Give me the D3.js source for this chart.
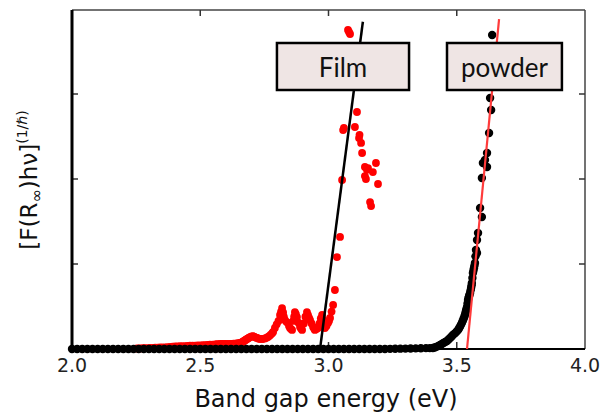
<!DOCTYPE html>
<html>
<head>
<meta charset="utf-8">
<script src="https://cdn.jsdelivr.net/npm/d3@7"></script>
<style>
    body { margin: 0; background: #fff; }
    text { font-family: "DejaVu Sans", sans-serif; }
</style>
</head>
<body>
<script>
// Film data (red), [energy eV, F(R)hv^(1/n)]
var filmData = [
    [2.253, 0.006], [2.262, 0.007], [2.270, 0.008], [2.278, 0.009], [2.285, 0.01], [2.295, 0.011],
    [2.305, 0.012], [2.315, 0.014], [2.324, 0.015], [2.333, 0.016], [2.343, 0.018], [2.353, 0.019],
    [2.363, 0.02], [2.372, 0.022], [2.382, 0.025], [2.392, 0.028], [2.402, 0.03], [2.411, 0.032],
    [2.421, 0.033], [2.431, 0.034], [2.441, 0.035], [2.450, 0.036], [2.460, 0.038], [2.470, 0.039],
    [2.480, 0.04], [2.490, 0.041], [2.500, 0.042], [2.510, 0.044], [2.519, 0.045], [2.528, 0.048],
    [2.538, 0.05], [2.548, 0.052], [2.558, 0.055], [2.565, 0.057], [2.572, 0.058], [2.579, 0.06],
    [2.585, 0.06], [2.593, 0.06], [2.600, 0.06], [2.608, 0.06], [2.616, 0.06], [2.623, 0.061],
    [2.630, 0.062], [2.637, 0.064], [2.643, 0.065], [2.649, 0.068], [2.655, 0.072], [2.659, 0.076],
    [2.663, 0.08], [2.667, 0.088], [2.671, 0.095], [2.675, 0.103], [2.678, 0.11], [2.682, 0.118],
    [2.686, 0.125], [2.690, 0.133], [2.694, 0.14], [2.700, 0.147], [2.706, 0.15], [2.709, 0.146],
    [2.713, 0.14], [2.717, 0.135], [2.721, 0.13], [2.726, 0.125], [2.730, 0.12], [2.735, 0.119],
    [2.741, 0.118], [2.746, 0.12], [2.752, 0.125], [2.758, 0.132], [2.764, 0.141], [2.770, 0.155],
    [2.775, 0.17], [2.780, 0.185], [2.784, 0.2], [2.791, 0.247], [2.798, 0.29], [2.805, 0.33],
    [2.811, 0.4], [2.815, 0.44], [2.819, 0.482], [2.823, 0.43], [2.826, 0.38], [2.830, 0.341],
    [2.836, 0.32], [2.842, 0.306], [2.846, 0.27], [2.850, 0.247], [2.854, 0.235], [2.858, 0.224],
    [2.863, 0.33], [2.866, 0.38], [2.869, 0.435], [2.873, 0.41], [2.877, 0.376], [2.883, 0.31],
    [2.889, 0.259], [2.893, 0.24], [2.897, 0.224], [2.904, 0.3], [2.910, 0.38], [2.916, 0.435],
    [2.920, 0.4], [2.924, 0.37], [2.928, 0.341], [2.934, 0.3], [2.940, 0.259], [2.944, 0.24],
    [2.947, 0.224], [2.953, 0.235], [2.959, 0.247], [2.965, 0.3], [2.970, 0.36], [2.975, 0.4],
    [2.979, 0.341], [2.983, 0.29], [2.986, 0.247], [2.992, 0.27], [2.998, 0.306], [3.002, 0.33],
    [3.006, 0.365], [3.012, 0.44], [3.018, 0.518], [3.025, 0.694], [3.033, 1.082], [3.045, 1.318],
    [3.053, 1.988], [3.057, 2.576], [3.060, 2.6], [3.076, 3.753], [3.080, 3.73], [3.084, 3.706],
    [3.103, 2.612], [3.111, 2.788], [3.119, 2.482], [3.121, 2.52], [3.127, 2.424], [3.131, 2.306],
    [3.142, 2.141], [3.154, 2.129], [3.173, 2.082], [3.185, 2.188], [3.142, 2.035], [3.146, 2.0],
    [3.150, 2.11], [3.193, 1.941], [3.162, 1.729], [3.166, 1.682]
]

// Powder data (black)
var powderData = [
    [2.00, 0], [2.02, 0], [2.04, 0], [2.06, 0], [2.08, 0], [2.10, 0], [2.12, 0], [2.14, 0],
    [2.16, 0], [2.18, 0], [2.20, 0], [2.22, 0], [2.24, 0], [2.26, 0], [2.28, 0], [2.30, 0],
    [2.32, 0], [2.34, 0], [2.36, 0], [2.38, 0], [2.40, 0], [2.42, 0], [2.44, 0], [2.46, 0],
    [2.48, 0], [2.50, 0], [2.52, 0], [2.54, 0], [2.56, 0], [2.58, 0], [2.60, 0], [2.62, 0],
    [2.64, 0], [2.66, 0], [2.68, 0], [2.70, 0], [2.72, 0], [2.74, 0], [2.76, 0], [2.78, 0],
    [2.80, 0], [2.82, 0], [2.84, 0], [2.86, 0], [2.88, 0], [2.90, 0], [2.92, 0], [2.94, 0],
    [2.96, 0], [2.98, 0], [3.00, 0], [3.02, 0], [3.04, 0], [3.06, 0], [3.08, 0], [3.10, 0],
    [3.12, 0], [3.14, 0], [3.16, 0], [3.18, 0], [3.20, 0], [3.22, 0], [3.24, 0.002], [3.26, 0.003],
    [3.28, 0.004], [3.30, 0.005], [3.32, 0.006], [3.34, 0.007], [3.36, 0.008], [3.38, 0.01],
    [3.395, 0.01], [3.407, 0.012], [3.414, 0.018], [3.420, 0.025], [3.428, 0.036], [3.435, 0.047],
    [3.442, 0.058], [3.448, 0.07], [3.455, 0.082], [3.462, 0.094], [3.468, 0.112], [3.474, 0.13],
    [3.480, 0.148], [3.485, 0.165], [3.490, 0.178], [3.495, 0.19], [3.500, 0.207], [3.505, 0.224],
    [3.509, 0.242], [3.512, 0.26], [3.516, 0.283], [3.520, 0.306], [3.523, 0.328], [3.526, 0.35],
    [3.529, 0.375], [3.532, 0.4], [3.534, 0.425], [3.536, 0.45], [3.538, 0.472], [3.540, 0.494],
    [3.542, 0.535], [3.544, 0.576], [3.546, 0.6], [3.548, 0.62], [3.550, 0.64], [3.552, 0.659],
    [3.554, 0.69], [3.556, 0.72], [3.558, 0.75], [3.559, 0.776], [3.561, 0.835], [3.563, 0.894],
    [3.565, 0.92], [3.567, 0.95], [3.569, 0.98], [3.571, 1.012], [3.573, 1.09], [3.575, 1.165],
    [3.579, 1.129], [3.579, 1.282], [3.583, 1.365], [3.598, 1.553], [3.591, 1.659], [3.598, 2.012],
    [3.618, 2.141], [3.602, 2.188], [3.610, 2.224], [3.618, 2.306], [3.626, 2.541], [3.634, 2.812],
    [3.630, 2.953], [3.638, 3.694]
]

// linear fits for the band gap
var filmFit = [[2.967, 0], [3.134, 3.85]]
var powderFit = [[3.54, 0], [3.665, 3.88]]

var xTicks = [2.0, 2.5, 3.0, 3.5, 4.0]
var yTicks = [1, 2, 3]

var labels = [
    { text: 'Film', x0: 2.799, x1: 3.314 },
    { text: 'powder', x0: 3.462, x1: 3.910 }
]

var width = 600
var height = 417
var margin = { top: 9, right: 15, bottom: 68, left: 72 }

var svg = d3.select('body')
    .append('svg')
    .attr('width', width)
    .attr('height', height)

var x = d3.scaleLinear()
    .domain([2.0, 4.0])
    .range([margin.left, width - margin.right])

var y = d3.scaleLinear()
    .domain([0, 4])
    .range([height - margin.bottom, margin.top])

var x0 = x.range()[0], x1 = x.range()[1]
var y0 = y.range()[0], y1 = y.range()[1]

// frame, top and right are thin grey
svg.append('line').attr('x1', x0).attr('x2', x1).attr('y1', y1 + 1).attr('y2', y1 + 1)
    .attr('stroke', '#444').attr('stroke-width', 1.5)
svg.append('line').attr('x1', x1).attr('x2', x1).attr('y1', y1 + 1).attr('y2', y0)
    .attr('stroke', '#444').attr('stroke-width', 1.5)

// inward ticks
var tickG = svg.append('g').attr('stroke', '#333').attr('stroke-width', 1.5)
xTicks.slice(1, -1).forEach(function (t) {
    tickG.append('line').attr('x1', x(t)).attr('x2', x(t)).attr('y1', y1 + 1).attr('y2', y1 + 7)
    tickG.append('line').attr('x1', x(t)).attr('x2', x(t)).attr('y1', y0).attr('y2', y0 - 7)
})
yTicks.forEach(function (t) {
    tickG.append('line').attr('x1', x0).attr('x2', x0 + 6).attr('y1', y(t)).attr('y2', y(t))
    tickG.append('line').attr('x1', x1).attr('x2', x1 - 6).attr('y1', y(t)).attr('y2', y(t))
})

// left and bottom axes, heavy black
svg.append('line').attr('x1', x0).attr('x2', x0).attr('y1', y1 + 1).attr('y2', y0)
    .attr('stroke', '#000').attr('stroke-width', 3)
svg.append('line').attr('x1', x0).attr('x2', x1).attr('y1', y0).attr('y2', y0)
    .attr('stroke', '#000').attr('stroke-width', 2)

// data points
svg.append('g').selectAll('circle')
    .data(filmData)
    .enter()
    .append('circle')
    .attr('cx', d => x(d[0]))
    .attr('cy', d => y(d[1]))
    .attr('r', 3.9)
    .attr('fill', '#ff0000')

svg.append('g').selectAll('circle')
    .data(powderData)
    .enter()
    .append('circle')
    .attr('cx', d => x(d[0]))
    .attr('cy', d => y(d[1]))
    .attr('r', 4.2)
    .attr('fill', '#000')

// fit lines
var line = d3.line().x(d => x(d[0])).y(d => y(d[1]))

svg.append('path').datum(filmFit)
    .attr('d', line).attr('fill', 'none')
    .attr('stroke', '#000').attr('stroke-width', 2.5)

svg.append('path').datum(powderFit)
    .attr('d', line).attr('fill', 'none')
    .attr('stroke', '#ff3b3b').attr('stroke-width', 2.2)

// label boxes
var boxTop = 43, boxH = 47
var boxG = svg.append('g').selectAll('g')
    .data(labels)
    .enter()
    .append('g')

boxG.append('rect')
    .attr('x', d => x(d.x0))
    .attr('y', boxTop)
    .attr('width', d => x(d.x1) - x(d.x0))
    .attr('height', boxH)
    .attr('fill', '#efe5e4')
    .attr('stroke', '#000')
    .attr('stroke-width', 2.5)

boxG.append('text')
    .attr('x', d => (x(d.x0) + x(d.x1)) / 2)
    .attr('y', boxTop + 34)
    .attr('text-anchor', 'middle')
    .style('font-family', 'Lato, "Open Sans", sans-serif')
    .style('font-size', '26px')
    .attr('fill', '#111')
    .text(d => d.text)

// tick labels
svg.append('g').selectAll('text')
    .data(xTicks)
    .enter()
    .append('text')
    .attr('x', d => x(d))
    .attr('y', y0 + 23)
    .attr('text-anchor', 'middle')
    .style('font-size', '19px')
    .attr('fill', '#222')
    .text(d => d.toFixed(1))

// axis titles
svg.append('text')
    .attr('x', 326)
    .attr('y', 407)
    .attr('text-anchor', 'middle')
    .style('font-size', '24px')
    .attr('fill', '#111')
    .text('Band gap energy (eV)')

var yTitle = svg.append('text')
    .attr('transform', 'translate(37,180) rotate(-90)')
    .attr('text-anchor', 'middle')
    .style('font-size', '23px')
    .attr('fill', '#111')

yTitle.append('tspan').text('[F(R')
yTitle.append('tspan').attr('dy', 5).style('font-size', '16px').text('∞')
yTitle.append('tspan').attr('dy', -5).text(')hν]')
yTitle.append('tspan').attr('dy', -10).style('font-size', '14px').text('(1/ℏ)')
</script>
</body>
</html>
